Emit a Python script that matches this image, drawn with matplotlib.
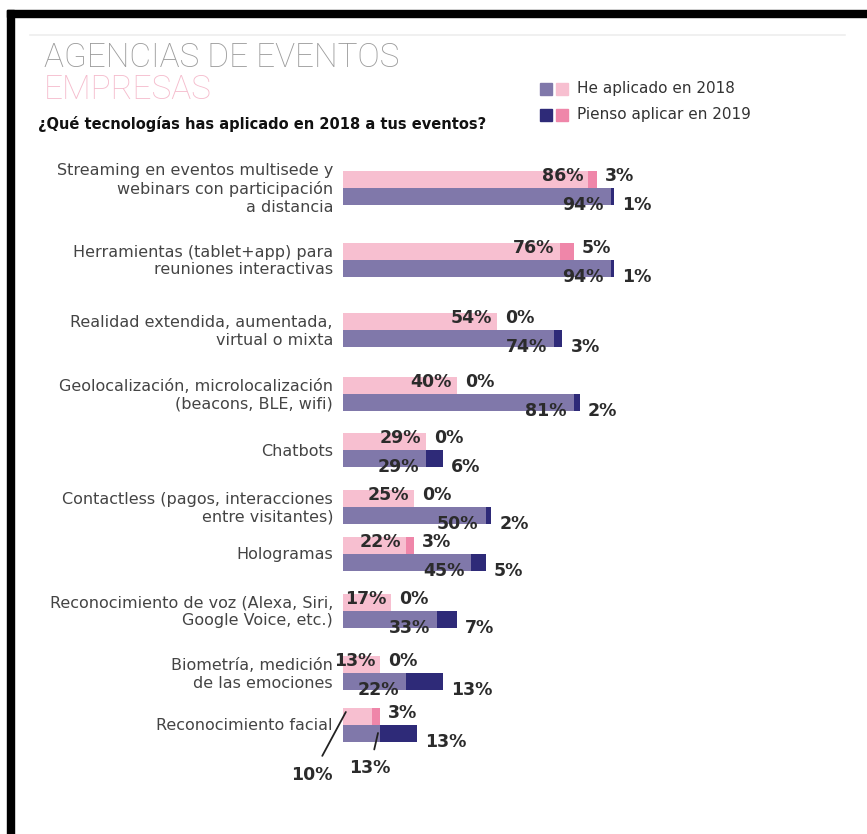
import matplotlib
matplotlib.use("Agg")
from matplotlib import pyplot as plt

# data
categories = [
    "Streaming en eventos multisede y\nwebinars con participación\na distancia",
    "Herramientas (tablet+app) para\nreuniones interactivas",
    "Realidad extendida, aumentada,\nvirtual o mixta",
    "Geolocalización, microlocalización\n(beacons, BLE, wifi)",
    "Chatbots",
    "Contactless (pagos, interacciones\nentre visitantes)",
    "Hologramas",
    "Reconocimiento de voz (Alexa, Siri,\nGoogle Voice, etc.)",
    "Biometría, medición\nde las emociones",
    "Reconocimiento facial",
]
empresas_2018 = [86, 76, 54, 40, 29, 25, 22, 17, 13, 10]
empresas_2019 = [3, 5, 0, 0, 0, 0, 3, 0, 0, 3]
agencias_2018 = [94, 94, 74, 81, 29, 50, 45, 33, 22, 13]
agencias_2019 = [1, 1, 3, 2, 6, 2, 5, 7, 13, 13]

# layout (pixel rows of each group, centre between the two bars)
group_y = [188, 260, 330, 394, 450, 507, 554, 611, 673, 725]

W, H = 867, 834
S = 2.85          # pixels per percent
X0 = 343          # pixel where bars start
BH = 17           # bar height in px

c_pink = "#f7bfd0"
c_hotpink = "#ef86a9"
c_purple = "#8078aa"
c_navy = "#2e2a78"
c_txt = "#2b2b2b"

fig = plt.figure(figsize=(W / 100, H / 100), dpi=100)
ax = fig.add_axes([0, 0, 1, 1])
ax.set_xlim(-X0 / S, (W - X0) / S)
ax.set_ylim(H, 0)
ax.axis("off")


def fx(x):
    return x / W


def fy(y):
    return 1 - y / H


# frame
fig.patches.append(plt.Rectangle((fx(7), fy(17)), fx(W), 7 / H, transform=fig.transFigure,
                                 color="black", zorder=5))
fig.patches.append(plt.Rectangle((fx(7), 0), 7 / W, fy(10), transform=fig.transFigure,
                                 color="black", zorder=5))
fig.lines.append(plt.Line2D([fx(30), fx(845)], [fy(35), fy(35)], transform=fig.transFigure,
                            color="#eeeeee", lw=1.2))

# titles
fig.text(fx(44), fy(58), "AGENCIAS DE EVENTOS", fontsize=24, color="#9c9c9c",
         family=["Roboto", "DejaVu Sans"], weight="light", va="center", ha="left")
fig.text(fx(44), fy(90), "EMPRESAS", fontsize=24, color="#f5bccd",
         family=["Roboto", "DejaVu Sans"], weight="light", va="center", ha="left")
fig.text(fx(38), fy(124), "¿Qué tecnologías has aplicado en 2018 a tus eventos?",
         fontsize=10.5, weight="bold", color="#111111", va="center", ha="left")

# legend
legend_rows = [("He aplicado en 2018", c_purple, c_pink, 89),
               ("Pienso aplicar en 2019", c_navy, c_hotpink, 115)]
for label, c1, c2, ly in legend_rows:
    fig.patches.append(plt.Rectangle((fx(540), fy(ly + 6)), 12 / W, 12 / H,
                                     transform=fig.transFigure, color=c1))
    fig.patches.append(plt.Rectangle((fx(556), fy(ly + 6)), 12 / W, 12 / H,
                                     transform=fig.transFigure, color=c2))
    fig.text(fx(577), fy(ly), label, fontsize=11, color="#333333", va="center", ha="left")

# bars
pink_y = [g - BH / 2 for g in group_y]
purp_y = [g + BH / 2 for g in group_y]
ax.barh(pink_y, empresas_2018, height=BH, color=c_pink)
ax.barh(pink_y, empresas_2019, left=empresas_2018, height=BH, color=c_hotpink)
ax.barh(purp_y, agencias_2018, height=BH, color=c_purple)
ax.barh(purp_y, agencias_2019, left=agencias_2018, height=BH, color=c_navy)

lab_kw = dict(fontsize=12.5, weight="bold", color=c_txt, va="center")
n = len(categories)
for i in range(n):
    g = group_y[i]
    ax.text(-10 / S, g + 1, categories[i], ha="right", va="center", fontsize=11.5,
            color="#444444", linespacing=1.25)
    e_tot = empresas_2018[i] + empresas_2019[i]
    a_tot = agencias_2018[i] + agencias_2019[i]
    ax.text(e_tot + 8 / S, g - 12, f"{empresas_2019[i]}%", ha="left", **lab_kw)
    ax.text(a_tot + 8 / S, g + 17, f"{agencias_2019[i]}%", ha="left", **lab_kw)
    if i < n - 1:
        ax.text(empresas_2018[i] - 5 / S, g - 12, f"{empresas_2018[i]}%", ha="right", **lab_kw)
        ax.text(agencias_2018[i] - 7 / S, g + 17, f"{agencias_2018[i]}%", ha="right", **lab_kw)

# small values of the last group with leader lines
last = n - 1
ax.annotate(f"{empresas_2018[last]}%", xy=(1, group_y[last] - 13),
            xytext=((312 - X0) / S, group_y[last] + 50),
            ha="center", va="center", fontsize=12.5, weight="bold", color=c_txt,
            arrowprops=dict(arrowstyle="-", color="#222222", lw=1.3, shrinkA=6, shrinkB=0))
ax.annotate(f"{agencias_2018[last]}%", xy=((378 - X0) / S, group_y[last] + 8),
            xytext=((370 - X0) / S, group_y[last] + 43),
            ha="center", va="center", fontsize=12.5, weight="bold", color=c_txt,
            arrowprops=dict(arrowstyle="-", color="#222222", lw=1.3, shrinkA=5, shrinkB=0))

plt.savefig("out.png", dpi=100)
